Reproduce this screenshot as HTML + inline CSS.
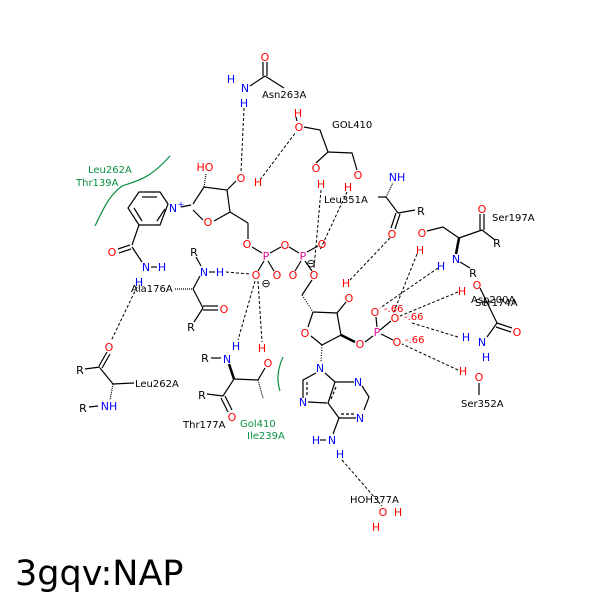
<!DOCTYPE html>
<html><head><meta charset="utf-8"><style>
html,body{margin:0;padding:0;background:#fff;}
svg{display:block;}
text{font-family:"DejaVu Sans","Liberation Sans",sans-serif;font-size:10px;}
.at text{font-size:11px;}
.b{fill:#000}.r{fill:#f00}.n{fill:#00f}.p{fill:#e0109a}.g{fill:#0a9040}
</style></head><body>
<svg width="600" height="600" viewBox="0 0 600 600" xmlns="http://www.w3.org/2000/svg">
<rect width="600" height="600" fill="#fff"/>
<g stroke="#000" stroke-width="1.2" fill="none">
<line x1="263" y1="62" x2="263" y2="76"/><line x1="267" y1="62" x2="267" y2="76"/>
<line x1="265" y1="76" x2="284" y2="88"/><line x1="265" y1="76" x2="250" y2="86"/>
<polyline points="193,204 204,187 227,190 230,212 214,221"/>
<line x1="203" y1="220" x2="193" y2="210"/>
<line x1="181" y1="207" x2="191" y2="205"/>
<line x1="230" y1="212" x2="248" y2="223"/><line x1="248" y1="223" x2="248" y2="239"/>
<line x1="227" y1="190" x2="236" y2="181"/>
<line x1="204" y1="187" x2="206" y2="174" stroke-dasharray="1,1"/>
<polygon points="139,192 160,192 168,204 160,225 139,225 128,208"/>
<polyline points="142,197 157,197" /><polyline points="134,208 142,221"/><polyline points="157,221 165,209" />
<line x1="139" y1="225" x2="132" y2="245"/>
<line x1="118" y1="249" x2="130" y2="245"/><line x1="119" y1="253" x2="131" y2="249"/>
<line x1="132" y1="247" x2="142" y2="262"/>
<line x1="151" y1="267" x2="157" y2="267"/>
<line x1="252" y1="247" x2="262" y2="253"/><line x1="270" y1="253" x2="281" y2="247"/>
<line x1="289" y1="247" x2="299" y2="253"/><line x1="307" y1="252" x2="318" y2="246"/>
<line x1="264" y1="261" x2="258" y2="271"/><line x1="268" y1="261" x2="274" y2="271"/>
<line x1="301" y1="261" x2="295" y2="271"/><line x1="305" y1="261" x2="312" y2="271"/>
<line x1="312" y1="280" x2="302" y2="295"/><line x1="302" y1="295" x2="313" y2="312" stroke-dasharray="1,1.5"/>
<polyline points="313,312 337,313 341,335 322,345"/>
<line x1="313" y1="312" x2="308" y2="327"/><line x1="311" y1="336" x2="322" y2="345"/>
<line x1="337" y1="313" x2="346" y2="302"/>
<line x1="341" y1="335" x2="355" y2="342" stroke-width="2.5"/>
<line x1="365" y1="342" x2="373" y2="336"/>
<line x1="377" y1="327" x2="376" y2="317"/><line x1="380" y1="330" x2="391" y2="321"/><line x1="381" y1="334" x2="393" y2="340"/>
<line x1="322" y1="345" x2="321" y2="362" stroke-dasharray="1,1.5"/>
<polyline points="316,373 303,380 303,398"/><line x1="308" y1="402" x2="327" y2="403"/>
<line x1="325" y1="373" x2="335" y2="382"/><polyline points="335,382 354,382"/>
<polyline points="362,386 369,397 364,410"/><polyline points="356,418 339,418 328,403 335,382"/>
<line x1="307" y1="382" x2="307" y2="396" stroke-dasharray="3,2"/>
<line x1="331" y1="399" x2="336" y2="387" stroke-dasharray="3,2"/>
<line x1="341" y1="414" x2="355" y2="414" stroke-dasharray="3,2"/>
<line x1="339" y1="418" x2="333" y2="434"/><line x1="320" y1="440" x2="326" y2="440"/>
<polyline points="304,127 320,130 328,152 316,163"/><polyline points="328,152 352,153 357,170"/>
<line x1="297" y1="121" x2="296" y2="117"/>
<line x1="378" y1="197" x2="386" y2="197"/><line x1="386" y1="197" x2="393" y2="183" stroke-dasharray="1,1"/>
<line x1="386" y1="197" x2="398" y2="213"/><line x1="398" y1="213" x2="415" y2="210"/>
<line x1="396" y1="213" x2="391" y2="228"/><line x1="400" y1="214" x2="395" y2="229"/>
<line x1="480" y1="214" x2="480" y2="230"/><line x1="484" y1="214" x2="484" y2="230"/>
<line x1="482" y1="230" x2="495" y2="240"/><line x1="482" y1="230" x2="459" y2="238"/>
<line x1="459" y1="238" x2="443" y2="227"/><line x1="443" y1="227" x2="427" y2="231"/>
<line x1="459" y1="238" x2="456" y2="254" stroke-width="2.5"/><line x1="460" y1="262" x2="470" y2="268"/>
<line x1="480" y1="288" x2="497" y2="323"/>
<line x1="497" y1="323" x2="512" y2="328"/><line x1="496" y1="327" x2="511" y2="332"/>
<line x1="497" y1="323" x2="487" y2="337"/>
<line x1="479" y1="383" x2="479" y2="395"/>
<line x1="196" y1="257" x2="201" y2="266"/><line x1="209" y1="272" x2="215" y2="272"/>
<line x1="200" y1="276" x2="193" y2="289"/><line x1="175" y1="289" x2="193" y2="289" stroke-dasharray="1,1"/>
<line x1="193" y1="289" x2="203" y2="308"/>
<line x1="203" y1="306" x2="218" y2="306"/><line x1="203" y1="310" x2="218" y2="310"/>
<line x1="203" y1="308" x2="194" y2="322"/>
<line x1="107" y1="352" x2="99" y2="366"/><line x1="110" y1="354" x2="102" y2="368"/>
<line x1="85" y1="369" x2="100" y2="367"/><line x1="100" y1="368" x2="113" y2="384"/>
<line x1="113" y1="384" x2="134" y2="383"/><line x1="113" y1="384" x2="110" y2="400" stroke-dasharray="1,1"/>
<line x1="89" y1="407" x2="98" y2="406"/>
<line x1="211" y1="358" x2="221" y2="358"/><line x1="229" y1="364" x2="234" y2="379" stroke-width="2.5"/>
<line x1="234" y1="379" x2="258" y2="380"/><line x1="258" y1="380" x2="265" y2="368" />
<line x1="258" y1="380" x2="263" y2="398" stroke-dasharray="1,1"/>
<line x1="234" y1="379" x2="223" y2="396"/><line x1="207" y1="394" x2="223" y2="396"/>
<line x1="221" y1="398" x2="228" y2="412"/><line x1="225" y1="396" x2="232" y2="410"/>
</g>
<g stroke="#000" stroke-width="1" stroke-dasharray="3,2" fill="none">
<line x1="244" y1="108" x2="241" y2="172"/>
<line x1="260" y1="180" x2="296" y2="132"/>
<line x1="321" y1="190" x2="314" y2="268"/>
<line x1="347" y1="192" x2="320" y2="250"/>
<line x1="350" y1="280" x2="390" y2="238"/>
<line x1="417" y1="254" x2="393" y2="314"/>
<line x1="438" y1="268" x2="380" y2="308"/>
<line x1="458" y1="292" x2="400" y2="316"/>
<line x1="458" y1="337" x2="412" y2="323"/>
<line x1="458" y1="370" x2="402" y2="344"/>
<line x1="226" y1="272" x2="250" y2="274"/>
<line x1="255" y1="281" x2="238" y2="340"/>
<line x1="258" y1="281" x2="262" y2="342"/>
<line x1="137" y1="287" x2="111" y2="341"/>
<line x1="342" y1="460" x2="382" y2="506"/>
</g>
<path d="M95,226 C105,205 110,195 122,186 C140,180 150,178 170,156" stroke="#0a9040" stroke-width="1.2" fill="none"/>
<path d="M283,357 C277,370 277,382 280,391" stroke="#0a9040" stroke-width="1.2" fill="none"/>
<g text-anchor="middle" class="at">
<text x="265" y="61" class="r">O</text>
<text x="245" y="92" class="n">N</text><text x="231" y="83" class="n">H</text><text x="244" y="107" class="n">H</text>
<text x="205" y="171" class="r">HO</text>
<text x="241" y="182" class="r">O</text><text x="258" y="186" class="r">H</text>
<text x="208" y="226" class="r">O</text>
<text x="173" y="212" class="n">N</text><text x="181" y="207" class="n" style="font-size:8px">+</text>
<text x="112" y="256" class="r">O</text>
<text x="146" y="271" class="n">N</text><text x="162" y="271" class="n">H</text><text x="139" y="286" class="n">H</text>
<text x="247" y="248" class="r">O</text><text x="266" y="260" class="p">P</text><text x="285" y="249" class="r">O</text>
<text x="303" y="260" class="p">P</text><text x="322" y="248" class="r">O</text>
<text x="256" y="279" class="r">O</text><text x="277" y="279" class="r">O</text>
<text x="293" y="279" class="r">O</text><text x="314" y="279" class="r">O</text>
<text x="266" y="287" class="b">⊖</text><text x="311" y="267" class="b">⊖</text>
<text x="298" y="117" class="r">H</text><text x="299" y="131" class="r">O</text>
<text x="316" y="172" class="r">O</text><text x="321" y="188" class="r">H</text>
<text x="358" y="179" class="r">O</text><text x="348" y="191" class="r">H</text>
<text x="397" y="181" class="n">NH</text>
<text x="392" y="238" class="r">O</text><text x="421" y="215" class="b">R</text>
<text x="346" y="287" class="r">H</text><text x="349" y="302" class="r">O</text>
<text x="305" y="337" class="r">O</text><text x="360" y="348" class="r">O</text>
<text x="377" y="336" class="p">P</text>
<text x="375" y="316" class="r">O</text><text x="395" y="322" class="r">O</text><text x="397" y="346" class="r">O</text>
<text x="320" y="372" class="n">N</text><text x="303" y="406" class="n">N</text>
<text x="358" y="386" class="n">N</text><text x="360" y="422" class="n">N</text>
<text x="332" y="444" class="n">N</text><text x="316" y="444" class="n">H</text><text x="340" y="458" class="n">H</text>
<text x="383" y="516" class="r">O</text><text x="398" y="516" class="r">H</text><text x="376" y="531" class="r">H</text>
<text x="482" y="213" class="r">O</text><text x="497" y="247" class="b">R</text>
<text x="422" y="237" class="r">O</text><text x="420" y="254" class="r">H</text>
<text x="456" y="263" class="n">N</text><text x="441" y="270" class="n">H</text><text x="473" y="277" class="b">R</text>
<text x="477" y="289" class="r">O</text><text x="462" y="295" class="r">H</text>
<text x="517" y="336" class="r">O</text><text x="482" y="346" class="n">N</text>
<text x="466" y="341" class="n">H</text><text x="486" y="361" class="n">H</text>
<text x="463" y="375" class="r">H</text><text x="479" y="381" class="r">O</text>
<text x="194" y="256" class="b">R</text><text x="204" y="276" class="n">N</text><text x="220" y="276" class="n">H</text>
<text x="224" y="313" class="r">O</text><text x="191" y="331" class="b">R</text>
<text x="109" y="351" class="r">O</text><text x="80" y="374" class="b">R</text>
<text x="109" y="410" class="n">NH</text><text x="83" y="412" class="b">R</text>
<text x="236" y="350" class="n">H</text><text x="227" y="363" class="n">N</text><text x="205" y="362" class="b">R</text>
<text x="262" y="352" class="r">H</text><text x="268" y="367" class="r">O</text>
<text x="232" y="421" class="r">O</text><text x="202" y="399" class="b">R</text>
</g>
<g style="font-size:8px" class="r">
<text x="384" y="312">-.66</text><text x="404" y="320">-.66</text><text x="405" y="343">-.66</text>
</g>
<g class="b" style="font-size:9px">
<text x="262" y="98">Asn263A</text>
<text x="332" y="128">GOL410</text>
<text x="324" y="203">Leu351A</text>
<text x="492" y="221">Ser197A</text>
<text x="471" y="303">Asp200A</text>
<text x="475" y="306">Ser174A</text>
<text x="461" y="407">Ser352A</text>
<text x="131" y="292">Ala176A</text>
<text x="135" y="387">Leu262A</text>
<text x="183" y="428">Thr177A</text>
<text x="350" y="503">HOH377A</text>
</g>
<g class="g" style="font-size:9px">
<text x="88" y="173">Leu262A</text><text x="76" y="186">Thr139A</text>
<text x="240" y="427">Gol410</text><text x="247" y="439">Ile239A</text>
</g>
<text x="15" y="585" style="font-size:35px" class="b">3gqv:NAP</text>
</svg>
</body></html>
